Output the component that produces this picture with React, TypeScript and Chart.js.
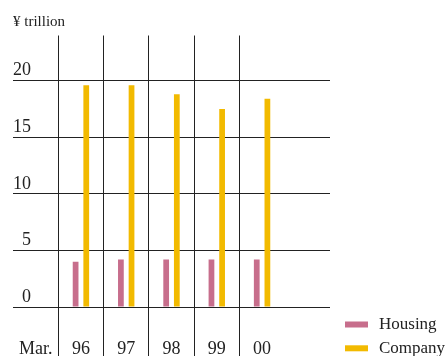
import { useEffect, useRef } from "react";
import { Chart, registerables } from "chart.js";

Chart.register(...registerables);

// Outstanding loans at end of March, in ¥ trillion
const years = ["96", "97", "98", "99", "00"];
const housing = [4.0, 4.2, 4.2, 4.2, 4.2];
const company = [19.6, 19.6, 18.8, 17.5, 18.4];
const yTicks = [0, 5, 10, 15, 20];
const categories = ["Mar.", ...years, ""];

const FONT = "'Liberation Serif', 'DejaVu Serif', serif";
const INK = "#222222";
const PINK = "#C76E8C";
const GOLD = "#F2BA00";

// leading "Mar." slot and trailing empty slot carry no bars
const withEdges = (vals: number[]) => [null, ...vals, null];

// Legend stacked in the lower right corner, beside the plot
const sideLegend = {
  id: "sideLegend",
  afterDraw(chart: any) {
    const { ctx } = chart;
    const boxX = 345;
    const textX = 379;
    const firstMid = 324.5;
    const rowGap = 23.8;
    ctx.save();
    ctx.font = `17px ${FONT}`;
    ctx.textAlign = "left";
    ctx.textBaseline = "alphabetic";
    chart.data.datasets.forEach((ds: any, i: number) => {
      const mid = firstMid + i * rowGap;
      ctx.fillStyle = ds.backgroundColor;
      ctx.fillRect(boxX, mid - 3, 23, 6);
      ctx.fillStyle = INK;
      ctx.fillText(ds.label, textX, mid + 4.4);
    });
    ctx.restore();
  },
};

export default function App() {
  const canvasRef = useRef<HTMLCanvasElement | null>(null);

  useEffect(() => {
    if (!canvasRef.current) return;
    const chart = new Chart(canvasRef.current, {
      type: "bar",
      data: {
        labels: categories,
        datasets: [
          {
            label: "Housing",
            data: withEdges(housing),
            backgroundColor: PINK,
            borderWidth: 0,
            categoryPercentage: 0.47,
            barPercentage: 0.54,
          },
          {
            label: "Company",
            data: withEdges(company),
            backgroundColor: GOLD,
            borderWidth: 0,
            categoryPercentage: 0.47,
            barPercentage: 0.54,
          },
        ],
      },
      options: {
        responsive: true,
        maintainAspectRatio: false,
        animation: false,
        layout: { padding: { left: 13, top: 0, right: 118, bottom: 0 } },
        plugins: {
          title: {
            display: true,
            text: "¥ trillion",
            align: "start",
            color: INK,
            font: { family: FONT, size: 15, weight: "normal" },
            padding: { top: 13, bottom: 4.5 },
          },
          legend: { display: false },
          tooltip: { enabled: false },
        },
        scales: {
          x: {
            grid: {
              offset: true,
              color: (ctx: any) =>
                ctx.index >= 1 && ctx.index <= years.length ? INK : "rgba(0,0,0,0)",
              lineWidth: 1,
              drawTicks: true,
              tickLength: 60,
            },
            border: { display: false },
            ticks: {
              color: INK,
              font: { family: FONT, size: 18 },
              padding: -29,
              maxRotation: 0,
              autoSkip: false,
            },
            afterFit: (s: any) => {
              s.height = 49;
            },
          },
          y: {
            min: 0,
            max: 24,
            afterBuildTicks: (s: any) => {
              s.ticks = yTicks.map((v) => ({ value: v }));
            },
            grid: { color: INK, lineWidth: 1, drawTicks: false },
            border: { display: false },
            ticks: {
              mirror: true,
              crossAlign: "far",
              padding: 0,
              labelOffset: -10,
              color: INK,
              font: { family: FONT, size: 18 },
            },
            afterFit: (s: any) => {
              s.width = 0;
            },
          },
        },
      } as any,
      plugins: [sideLegend],
    });
    return () => chart.destroy();
  }, []);

  return (
    <div style={{ position: "fixed", left: 0, top: 0, width: 448, height: 356, background: "#fff" }}>
      <canvas ref={canvasRef} />
    </div>
  );
}
